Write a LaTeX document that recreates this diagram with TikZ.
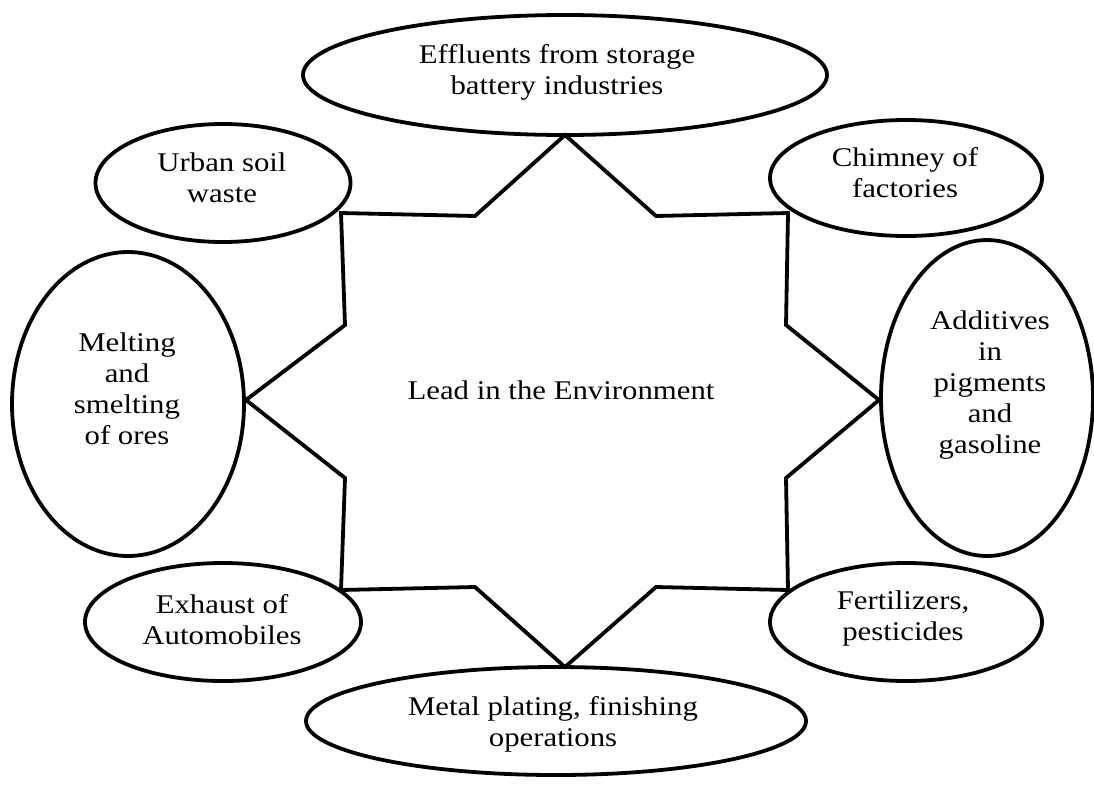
\documentclass[tikz,border=0pt]{standalone}
\usepackage{fontspec}
\setmainfont[FakeStretch=1.14]{Liberation Serif}
\usetikzlibrary{shapes.geometric}
\tikzset{
  src/.style={ellipse, draw, line width=3.8pt, inner sep=0pt},
  lbl/.style={align=center, inner sep=0pt, font=\fontsize{27}{31}\selectfont},
  starline/.style={line width=3.8pt, line join=miter},
}
\begin{document}
\begin{tikzpicture}[x=1pt, y=-1pt]
\useasboundingbox (0,0) rectangle (1094,785);

% outer ellipses (sources)
\node[src, minimum width=524pt, minimum height=120pt] (eff)  at (565,75)  {};
\node[src, minimum width=255pt, minimum height=118pt] (urb)  at (223,183) {};
\node[src, minimum width=272pt, minimum height=116pt] (chim) at (906,178) {};
\node[src, minimum width=232pt, minimum height=304pt] (melt) at (128,404) {};
\node[src, minimum width=212pt, minimum height=316pt] (add)  at (987,398) {};
\node[src, minimum width=276pt, minimum height=118pt] (exh)  at (223,622) {};
\node[src, minimum width=272pt, minimum height=118pt] (fert) at (906,622) {};
\node[src, minimum width=500pt, minimum height=108pt] (met)  at (556,721) {};

% labels
\node[lbl] (efft)  at (557,72)  {Effluents from storage\\battery industries};
\node[lbl] (urbt)  at (222,178) {Urban soil\\waste};
\node[lbl] (chimt) at (905,173) {Chimney of\\factories};
\node[lbl] (meltt) at (127,389) {Melting\\and\\smelting\\of ores};
\node[lbl] (addt)  at (990,385) {Additives\\in\\pigments\\and\\gasoline};
\node[lbl] (exht)  at (222,620) {Exhaust of\\Automobiles};
\node[lbl] (fertt) at (903,618) {Fertilizers,\\pesticides};
\node[lbl] (mett)  at (553,724) {Metal plating, finishing\\operations};
\node[lbl] (lead)  at (561,390) {Lead in the Environment};

% eight-pointed star
\coordinate (T)   at (565,135);
\coordinate (iTR) at (656,216);
\coordinate (cTR) at (788,213);
\coordinate (rU)  at (786,325);
\coordinate (R)   at (879,400);
\coordinate (rL)  at (786,478);
\coordinate (cBR) at (788,590);
\coordinate (iBR) at (656,587);
\coordinate (B)   at (565,667);
\coordinate (iBL) at (475,587);
\coordinate (cBL) at (341,590);
\coordinate (lL)  at (345,478);
\coordinate (L)   at (246,400);
\coordinate (lU)  at (345,325);
\coordinate (cTL) at (341,213);
\coordinate (iTL) at (475,216);
\draw[starline] (T) -- (iTR) -- (cTR) -- (rU) -- (R) -- (rL) -- (cBR) -- (iBR)
  -- (B) -- (iBL) -- (cBL) -- (lL) -- (L) -- (lU) -- (cTL) -- (iTL) -- cycle;
\end{tikzpicture}
\end{document}
